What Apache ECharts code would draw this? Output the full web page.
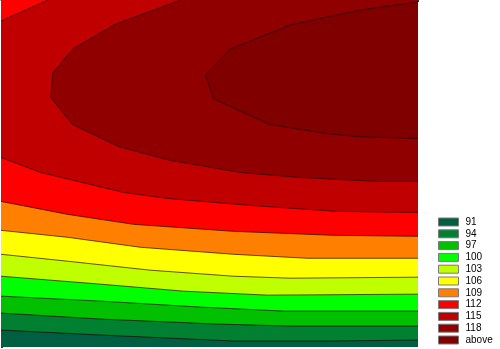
<!DOCTYPE html>
<html>
<head>
<meta charset="utf-8">
<script src="https://cdn.jsdelivr.net/npm/echarts@6/dist/echarts.min.js"></script>
<style>html,body{margin:0;padding:0;background:#fff}#c{width:500px;height:349px}</style>
</head>
<body>
<div id="c"></div>
<script>
// Level names (legend)
const levels = ['91', '94', '97', '100', '103', '106', '109', '112', '115', '118', 'above'];
const c94 = [[0,331],[100,336],[233,342],[333,342],[418,341]];
const c97 = [[0,314],[100,320],[217,325],[290,327],[418,327]];
const c100 = [[0,297],[100,302],[200,308],[283,312],[418,312]];
const c103 = [[0,277],[100,285],[183,292],[267,296],[418,295]];
const c106 = [[0,255],[67,262],[150,271],[233,277],[290,279],[418,278]];
const c109 = [[0,231],[67,238],[140,248],[233,255],[307,259],[418,259]];
const c112 = [[0,202],[67,215],[133,225],[233,232],[333,236],[418,237]];
const c115low = [[0,158],[40,173],[123,193],[167,199],[250,206],[337,212],[418,213]];
const c115corner = [[47,0],[0,21]];
const c118 = [[180,0],[115,24],[72,49],[52,73],[50,98],[72,125],[118,147],[170,161],[200,166],[240,173],[300,178],[380,182],[418,182]];
const cAbove = [[418,2],[360,10],[290,25],[230,49],[205,75],[213,99],[270,125],[327,134],[357,137],[418,139]];

const colors = ['#005f40','#008030','#00c000','#00ff00','#c0ff00','#ffff00','#ff8000','#ff0000','#c00000','#900000','#800000'];

const X_MIN = 0, X_MAX = 418, Y_MIN = 0, Y_MAX = 348;

// region definitions: polygon = curve + closing points along plot edges; lines = curves to stroke
const regions = [
  { poly: [[X_MIN,Y_MIN],[X_MAX,Y_MIN],[X_MAX,Y_MAX],[X_MIN,Y_MAX]], lines: [] },
  { poly: c94.concat([[X_MAX,Y_MIN],[X_MIN,Y_MIN]]), lines: [c94] },
  { poly: c97.concat([[X_MAX,Y_MIN],[X_MIN,Y_MIN]]), lines: [c97] },
  { poly: c100.concat([[X_MAX,Y_MIN],[X_MIN,Y_MIN]]), lines: [c100] },
  { poly: c103.concat([[X_MAX,Y_MIN],[X_MIN,Y_MIN]]), lines: [c103] },
  { poly: c106.concat([[X_MAX,Y_MIN],[X_MIN,Y_MIN]]), lines: [c106] },
  { poly: c109.concat([[X_MAX,Y_MIN],[X_MIN,Y_MIN]]), lines: [c109] },
  { poly: c112.concat([[X_MAX,Y_MIN],[X_MIN,Y_MIN]]), lines: [c112] },
  { poly: c115low.concat([[X_MAX,Y_MIN]], c115corner), lines: [c115low, c115corner] },
  { poly: c118.concat([[X_MAX,Y_MIN]]), lines: [c118] },
  { poly: cAbove.slice(), lines: [cAbove] }
];

const chart = echarts.init(document.getElementById('c'), null, {renderer: 'canvas'});

const series = regions.map((r, i) => ({
  type: 'custom',
  name: levels[i],
  coordinateSystem: 'cartesian2d',
  itemStyle: { color: colors[i] },
  data: r.poly,
  silent: true,
  clip: true,
  renderItem: function (params, api) {
    if (params.dataIndex !== 0) return null;
    const pts = r.poly.map(p => api.coord(p));
    const children = [{
      type: 'polygon',
      shape: { points: pts },
      style: { fill: colors[i], stroke: null }
    }];
    r.lines.forEach(l => {
      children.push({
        type: 'polyline',
        shape: { points: l.map(p => api.coord(p)) },
        style: { fill: null, stroke: 'rgba(30,0,0,0.85)', lineWidth: 0.8 }
      });
    });
    return { type: 'group', children: children };
  }
}));

chart.setOption({
  animation: false,
  grid: { left: 1, top: 0, width: 417, height: 347 },
  legend: {
    orient: 'vertical',
    left: 438,
    top: 217,
    height: 132,
    padding: 0,
    data: levels,
    icon: 'rect',
    itemWidth: 20,
    itemHeight: 8,
    itemGap: 1.8,
    selectedMode: false,
    itemStyle: { borderColor: '#7a7a7a', borderWidth: 1 },
    textStyle: { fontFamily: 'Liberation Sans, Arial, sans-serif', fontSize: 10, color: '#000', padding: [0,0,0,2] }
  },
  xAxis: [
    { type: 'value', min: X_MIN, max: X_MAX, interval: 10, position: 'bottom',
      axisLine: { show: true, lineStyle: { color: '#333', width: 1 } },
      axisTick: { show: true, inside: true, length: 2, lineStyle: { color: '#333' } },
      axisLabel: { show: false }, splitLine: { show: false } },
    { type: 'value', min: X_MIN, max: X_MAX, interval: 10, position: 'top',
      axisLine: { show: false },
      axisTick: { show: true, inside: true, length: 2, lineStyle: { color: '#333' } },
      axisLabel: { show: false }, splitLine: { show: false } }
  ],
  yAxis: [
    { type: 'value', min: Y_MIN, max: Y_MAX, interval: 10, inverse: true, position: 'left',
      axisLine: { show: true, lineStyle: { color: '#333', width: 1 } },
      axisTick: { show: true, inside: true, length: 2, lineStyle: { color: '#333' } },
      axisLabel: { show: false }, splitLine: { show: false } },
    { type: 'value', min: Y_MIN, max: Y_MAX, inverse: true, position: 'right',
      axisLine: { show: true, lineStyle: { color: '#a0a0a0', width: 1 } },
      axisTick: { show: false }, axisLabel: { show: false }, splitLine: { show: false } }
  ],
  series: series
});
</script>
</body>
</html>
